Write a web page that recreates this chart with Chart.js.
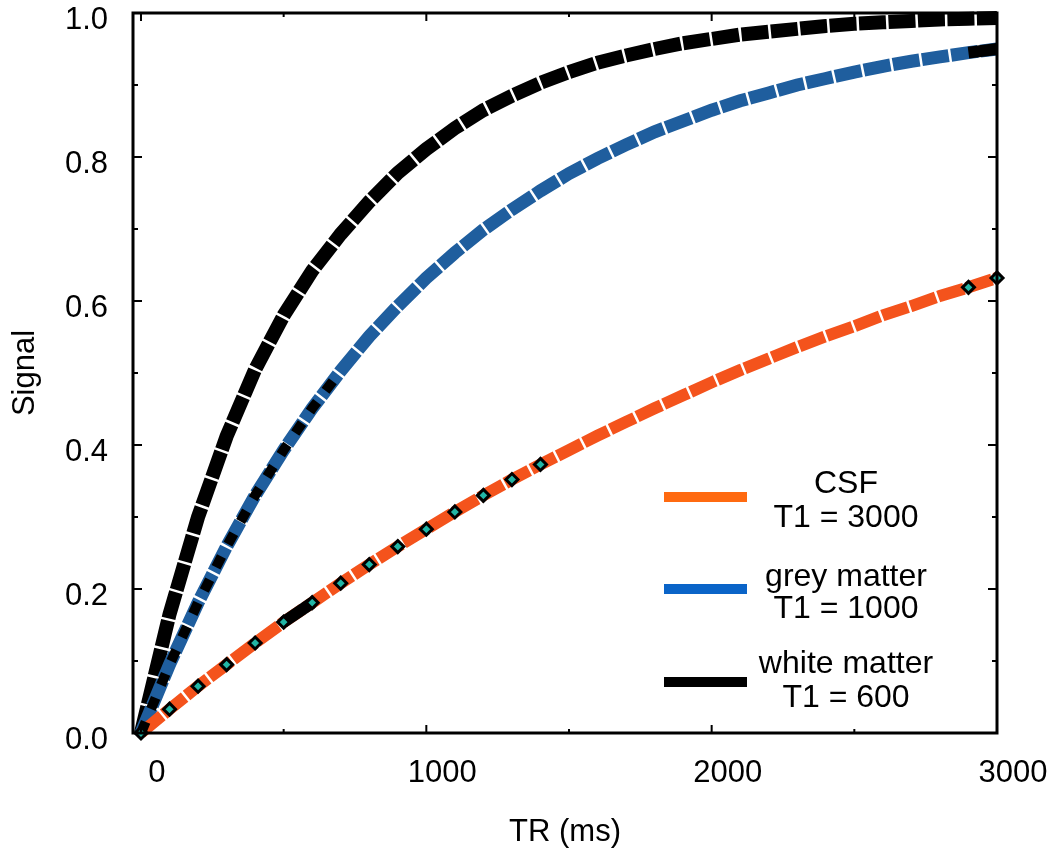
<!DOCTYPE html>
<html>
<head>
<meta charset="utf-8">
<script src="https://cdn.jsdelivr.net/npm/chart.js@4.4.1/dist/chart.umd.min.js"></script>
<style>
html,body{margin:0;padding:0;background:#fff;}
#wrap{width:1058px;height:855px;position:relative;}
</style>
</head>
<body>
<div id="wrap"><canvas id="c"></canvas></div>
<script>
// ---- data ----
const trValues = [0,100,200,300,400,500,600,700,800,900,1000,1100,1200,1300,1400,1500,1600,1700,1800,1900,2000,2100,2200,2300,2400,2500,2600,2700,2800,2900,3000];
const csfSignal = [0,0.033,0.065,0.095,0.125,0.154,0.181,0.208,0.234,0.259,0.283,0.307,0.330,0.352,0.373,0.393,0.413,0.432,0.451,0.469,0.487,0.504,0.520,0.536,0.551,0.565,0.580,0.593,0.607,0.619,0.632];
const greySignal = [0,0.095,0.181,0.259,0.330,0.393,0.451,0.503,0.551,0.593,0.632,0.667,0.699,0.727,0.753,0.777,0.798,0.817,0.835,0.850,0.865,0.878,0.889,0.900,0.909,0.918,0.926,0.933,0.939,0.945,0.950];
const whiteSignal = [0,0.165,0.300,0.412,0.505,0.580,0.642,0.693,0.738,0.778,0.811,0.840,0.865,0.885,0.903,0.918,0.931,0.941,0.950,0.958,0.964,0.970,0.974,0.978,0.982,0.985,0.987,0.989,0.991,0.992,0.993];
const seriesNames = ['CSF','grey matter','white matter'];
const seriesT1Labels = ['T1 = 3000','T1 = 1000','T1 = 600'];
const xTickValues = [0,500,1000,1500,2000,2500,3000];
const xTickLabels = ['0','','1000','','2000','','3000'];
const yTickValues = [0,0.1,0.2,0.3,0.4,0.5,0.6,0.7,0.8,0.9,1.0];
const yTickLabels = ['0.0','','0.2','','0.4','','0.6','','0.8','','1.0'];
const greyOverlayTR = [0,100,200,300,400,500,600,700];   // black dashed trace over grey matter
const greyEndTR = [2900,3000];                          // black end piece of grey matter
const csfBlackTR = [500,600];                           // black piece on CSF
const csfMarkerTR = [0,100,200,300,400,500,600,700,800,900,1000,1100,1200,1300,1400,2900,3000];

function pts(trs, sig){ return trs.map(t => ({x:t, y:sig[trValues.indexOf(t)]})); }

const FONT = '"Liberation Sans", Arial, Helvetica, sans-serif';

const frameTicksPlugin = {
  id:'frameTicks',
  afterDatasetsDraw(chart){
    const {ctx, chartArea:a, scales:{x,y}} = chart;
    ctx.save();
    ctx.strokeStyle = '#000';
    ctx.lineWidth = 3;
    ctx.strokeRect(a.left, a.top, a.right - a.left, a.bottom - a.top);
    ctx.lineWidth = 2;
    x.ticks.forEach(t => {
      const px = x.getPixelForValue(t.value);
      if (px <= a.left + 2 || px >= a.right - 2) return;
      const L = xTickLabels[xTickValues.indexOf(t.value)] ? 8 : 4;
      ctx.beginPath();
      ctx.moveTo(px, a.bottom); ctx.lineTo(px, a.bottom - L);
      ctx.moveTo(px, a.top); ctx.lineTo(px, a.top + L);
      ctx.stroke();
    });
    y.ticks.forEach(t => {
      const py = y.getPixelForValue(t.value);
      if (py <= a.top + 2 || py >= a.bottom - 2) return;
      const L = yTickLabels[yTickValues.indexOf(t.value)] ? 9 : 5;
      ctx.beginPath();
      ctx.moveTo(a.left, py); ctx.lineTo(a.left + L, py);
      ctx.moveTo(a.right, py); ctx.lineTo(a.right - L, py);
      ctx.stroke();
    });
    ctx.restore();
  }
};

const legendPlugin = {
  id:'sideLegend',
  afterDraw(chart, args, opts){
    const ctx = chart.ctx;
    ctx.save();
    ctx.font = '32px ' + FONT;
    ctx.fillStyle = '#000';
    ctx.textAlign = 'center';
    ctx.textBaseline = 'middle';
    opts.items.forEach((it, i) => {
      ctx.strokeStyle = it.color;
      ctx.lineWidth = 10;
      ctx.lineCap = 'butt';
      ctx.beginPath();
      ctx.moveTo(opts.lineX0, it.lineY);
      ctx.lineTo(opts.lineX1, it.lineY);
      ctx.stroke();
      ctx.fillText(seriesNames[i], opts.textX, it.textY1);
      ctx.fillText(seriesT1Labels[i], opts.textX, it.textY2);
    });
    ctx.restore();
  }
};

const mainDash = [27, 2.5];

new Chart(document.getElementById('c'), {
  type: 'line',
  data: {
    datasets: [
      { label: 'CSF markers', data: pts(csfMarkerTR, csfSignal), showLine: false,
        pointStyle: 'rectRot', pointRadius: 6, pointBackgroundColor: '#22b5a5',
        pointBorderColor: '#000', pointBorderWidth: 3, clip: false },
      { label: 'grey overlay', data: pts(greyOverlayTR, greySignal), borderColor: '#000',
        borderWidth: 10, borderDash: [12, 14], pointRadius: 0, fill: false, clip: false },
      { label: 'grey end', data: pts(greyEndTR, greySignal), borderColor: '#000',
        borderWidth: 12, pointRadius: 0, fill: false, clip: false },
      { label: 'csf piece', data: pts(csfBlackTR, csfSignal), borderColor: '#000',
        borderWidth: 12, pointRadius: 0, fill: false, clip: false },
      { label: seriesNames[0], data: pts(trValues, csfSignal), borderColor: '#f4531c',
        borderWidth: 12, borderDash: mainDash, pointRadius: 0, fill: false, clip: false },
      { label: seriesNames[1], data: pts(trValues, greySignal), borderColor: '#1f5e9e',
        borderWidth: 13, borderDash: mainDash, pointRadius: 0, fill: false, clip: false },
      { label: seriesNames[2], data: pts(trValues, whiteSignal), borderColor: '#000',
        borderWidth: 14, borderDash: mainDash, pointRadius: 0, fill: false, clip: false }
    ]
  },
  options: {
    responsive: true,
    maintainAspectRatio: false,
    animation: false,
    layout: { padding: { top: 13, right: 61, left: 0, bottom: 0 } },
    elements: { line: { tension: 0, borderCapStyle: 'butt', borderJoinStyle: 'miter' } },
    plugins: {
      legend: { display: false },
      tooltip: { enabled: false },
      sideLegend: {
        lineX0: 664, lineX1: 747, textX: 846,
        items: [
          { color: '#ff6a10', lineY: 497, textY1: 484, textY2: 518 },
          { color: '#0a64c8', lineY: 589, textY1: 577, textY2: 609 },
          { color: '#000000', lineY: 682, textY1: 664, textY2: 698 }
        ]
      }
    },
    scales: {
      x: {
        type: 'linear', min: -28, max: 3000,
        grid: { display: false, drawTicks: false }, border: { display: false },
        afterBuildTicks: s => { s.ticks = xTickValues.map(v => ({ value: v })); },
        afterFit: s => { s.height = 122; s.paddingLeft = 0; s.paddingRight = 0; },
        ticks: {
          autoSkip: false, maxRotation: 0, padding: 22, labelOffset: 16, color: '#000',
          font: { size: 31, family: FONT },
          callback: v => xTickLabels[xTickValues.indexOf(v)] ?? ''
        },
        title: { display: true, text: 'TR (ms)', color: '#000',
          font: { size: 31, family: FONT }, padding: { top: 0, bottom: 4 } }
      },
      y: {
        type: 'linear', min: 0, max: 1,
        grid: { display: false, drawTicks: false }, border: { display: false },
        afterBuildTicks: s => { s.ticks = yTickValues.map(v => ({ value: v })); },
        afterFit: s => { s.width = 133; s.paddingTop = 0; s.paddingBottom = 0; },
        ticks: {
          autoSkip: false, padding: 25, labelOffset: 7, color: '#000',
          font: { size: 31, family: FONT },
          callback: v => yTickLabels[yTickValues.indexOf(v)] ?? ''
        },
        title: { display: true, text: 'Signal', color: '#000',
          font: { size: 31, family: FONT }, padding: { top: 7, bottom: 0 } }
      }
    }
  },
  plugins: [frameTicksPlugin, legendPlugin]
});
</script>
</body>
</html>
